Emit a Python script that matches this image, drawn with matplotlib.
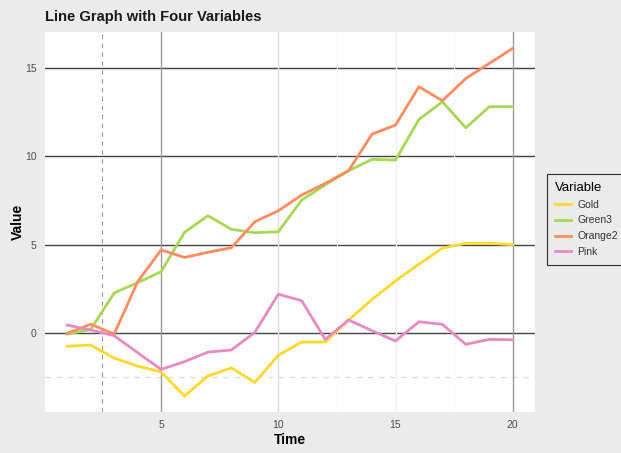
import matplotlib.pyplot as plt

plt.rcParams['font.family'] = ['Liberation Sans', 'DejaVu Sans']

# data
time = list(range(1, 21))
gold = [-0.75, -0.68, -1.42, -1.87, -2.2, -3.57, -2.43, -1.97, -2.8, -1.26,
        -0.51, -0.51, 0.74, 1.9, 2.95, 3.9, 4.8, 5.08, 5.08, 5.0]
green3 = [-0.06, 0.2, 2.27, 2.85, 3.47, 5.7, 6.64, 5.87, 5.68, 5.73,
          7.53, 8.38, 9.19, 9.83, 9.79, 12.09, 13.09, 11.62, 12.81, 12.81]
orange2 = [-0.02, 0.5, -0.06, 2.9, 4.7, 4.28, 4.57, 4.83, 6.3, 6.92,
           7.81, 8.47, 9.19, 11.26, 11.77, 13.94, 13.15, 14.41, 15.26, 16.11]
pink = [0.45, 0.17, -0.15, -1.11, -2.06, -1.62, -1.08, -0.96, 0.04, 2.2,
        1.83, -0.36, 0.74, 0.13, -0.45, 0.64, 0.49, -0.64, -0.36, -0.38]

series = [('Gold', gold, '#FFD92F'), ('Green3', green3, '#A6D854'),
          ('Orange2', orange2, '#FC8D62'), ('Pink', pink, '#E78AC3')]

fig = plt.figure(figsize=(6.21, 4.53), dpi=100, facecolor='#ebebeb')
ax = fig.add_axes([0.0725, 0.0905, 0.789, 0.8389])
ax.set_facecolor('white')
for s in ax.spines.values():
    s.set_visible(False)

# grid lines
for y in [0, 5, 10, 15]:
    ax.axhline(y, color='#444444', lw=1.0, zorder=1)
ax.axhline(-2.5, color='#dddddd', lw=1.0, ls=(0, (4, 4)), zorder=1)
ax.axvline(2.5, color='#999999', lw=0.8, ls=(0, (4, 4)), zorder=1)
ax.axvline(5, color='#999999', lw=1.0, zorder=1)
ax.axvline(10, color='#dddddd', lw=1.0, zorder=1)
ax.axvline(15, color='#f2f2f2', lw=1.0, zorder=1)
ax.axvline(20, color='#999999', lw=1.0, zorder=1)
for x in [12.5, 17.5]:
    ax.axvline(x, color='#f6f6f6', lw=0.8, zorder=1)

for name, vals, col in series:
    ax.plot(time, vals, color=col, lw=2, label=name, zorder=3)

ax.set_xlim(0.05, 20.95)
ax.set_ylim(-4.47, 17.04)
ax.set_xticks([5, 10, 15, 20])
ax.set_yticks([0, 5, 10, 15])
ax.tick_params(length=0, labelsize=7.5, labelcolor='#4d4d4d', pad=6)

ax.set_xlabel('Time', fontsize=10, fontweight='bold', labelpad=2)
ax.set_ylabel('Value', fontsize=10, fontweight='bold', labelpad=0)
fig.text(0.0725, 0.963, 'Line Graph with Four Variables', fontsize=10.6,
         fontweight='bold', va='center', ha='left', color='#1a1a1a')

leg = ax.legend(title='Variable', loc='center left', bbox_to_anchor=(0.881, 0.5155),
                bbox_transform=fig.transFigure, borderaxespad=0, frameon=True,
                fontsize=7.5, title_fontsize=9.5, handlelength=1.45,
                handletextpad=0.65, labelspacing=0.55, borderpad=0.8,
                fancybox=False)
leg.get_frame().set_facecolor('#ebebeb')
leg.get_frame().set_edgecolor('black')
leg.get_frame().set_linewidth(0.8)
leg._legend_box.align = 'left'
for t in leg.get_texts():
    t.set_color('#333333')

fig.savefig('out.png', dpi=100, facecolor=fig.get_facecolor())
